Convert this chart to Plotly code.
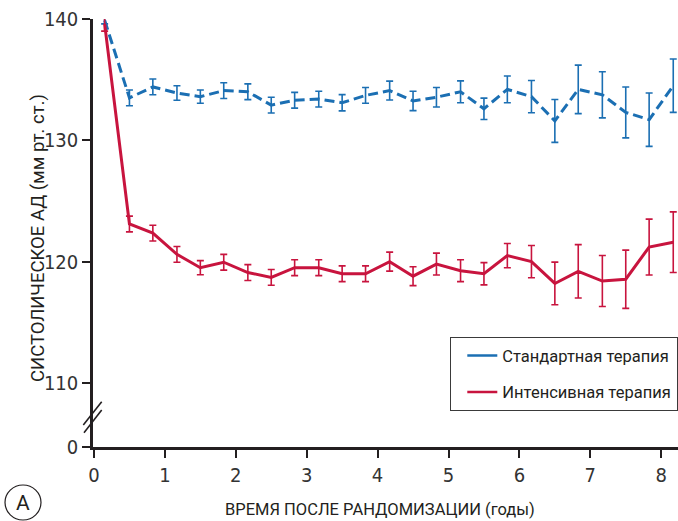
import plotly.graph_objects as go

# Years after randomization
years = [0.15, 0.5, 0.83, 1.17, 1.5, 1.83, 2.17, 2.5, 2.83, 3.17, 3.5, 3.83,
         4.17, 4.5, 4.83, 5.17, 5.5, 5.83, 6.17, 6.5, 6.83, 7.17, 7.5, 7.83, 8.17]

# Standard therapy: mean systolic BP and 95% CI half-width
standard_sbp = [139.9, 133.5, 134.4, 133.9, 133.6, 134.1, 134.0, 132.9, 133.3, 133.4,
                133.1, 133.7, 134.1, 133.25, 133.55, 134.0, 132.6, 134.2, 133.6, 131.6,
                134.2, 133.75, 132.3, 131.7, 134.5]
standard_ci = [0.3, 0.65, 0.65, 0.6, 0.55, 0.65, 0.65, 0.65, 0.65, 0.65, 0.67, 0.65,
               0.78, 0.8, 0.8, 0.9, 0.88, 1.1, 1.33, 1.77, 2.0, 1.9, 2.1, 2.2, 2.2]

# Intensive therapy
intensive_sbp = [139.6, 123.1, 122.35, 120.6, 119.5, 119.95, 119.1, 118.7, 119.5, 119.5,
                 119.0, 119.0, 120.0, 118.8, 119.8, 119.25, 119.0, 120.5, 120.0, 118.2,
                 119.2, 118.4, 118.55, 121.2, 121.6]
intensive_ci = [0.6, 0.65, 0.65, 0.65, 0.58, 0.65, 0.65, 0.65, 0.65, 0.65, 0.65, 0.65,
                0.78, 0.78, 0.9, 0.9, 0.92, 1.0, 1.33, 1.76, 2.2, 2.1, 2.4, 2.3, 2.5]

series_names = ["Стандартная терапия", "Интенсивная терапия"]
x_ticks = [0, 1, 2, 3, 4, 5, 6, 7, 8]
y_ticks = [110, 120, 130, 140]

BLUE = "#1b6fb3"
RED = "#c8143e"
INK = "#231f20"
TEXT_FONT = "Roboto, Liberation Sans, sans-serif"
TICK_FONT = "DejaVu Sans Condensed, Roboto, sans-serif"

# the axis is broken below 110: its bottom edge stands for 0
Y_BOTTOM = 104.72
y_tickvals = [Y_BOTTOM] + y_ticks
y_ticktext = ["0"] + [str(v) for v in y_ticks]

W, H = 678, 521
ML, MR, MT, MB = 93, 0, 19, 74
PW, PH = W - ML - MR, H - MT - MB


def px(x):
    return (x - ML) / PW


def py(y):
    return (H - MB - y) / PH


fig = go.Figure()

fig.add_trace(go.Scatter(
    x=years, y=standard_sbp, mode="lines", showlegend=False, cliponaxis=False,
    line=dict(color=BLUE, width=3, dash="10px,5px"),
    error_y=dict(type="data", array=standard_ci, visible=True,
                 color=BLUE, thickness=1.6, width=3.5),
))
fig.add_trace(go.Scatter(
    x=years, y=intensive_sbp, mode="lines", showlegend=False, cliponaxis=False,
    line=dict(color=RED, width=3),
    error_y=dict(type="data", array=intensive_ci, visible=True,
                 color=RED, thickness=1.6, width=3.5),
))

# legend entries (solid samples)
for name, color in zip(series_names, [BLUE, RED]):
    fig.add_trace(go.Scatter(
        x=[None], y=[None], mode="lines", name=name, legendgroup=name,
        line=dict(color=color, width=2.5),
    ))

shapes = [
    # axis break marks
    dict(type="line", xref="paper", yref="paper",
         x0=px(101.7), y0=py(401.7), x1=px(83.3), y1=py(425),
         line=dict(color=INK, width=1.6)),
    dict(type="line", xref="paper", yref="paper",
         x0=px(101.7), y0=py(410), x1=px(84), y1=py(432.7),
         line=dict(color=INK, width=1.6)),
    # panel letter circle
    dict(type="circle", xref="paper", yref="paper",
         x0=px(5), y0=py(520), x1=px(41), y1=py(485),
         line=dict(color=INK, width=1.2)),
]

annotations = [
    dict(text="A", xref="paper", yref="paper", x=px(23), y=py(503),
         showarrow=False, font=dict(size=21, color=INK, family=TEXT_FONT),
         xanchor="center", yanchor="middle"),
    dict(text="ВРЕМЯ ПОСЛЕ РАНДОМИЗАЦИИ (годы)",
         xref="paper", yref="paper", x=px(380), y=py(509), showarrow=False,
         font=dict(size=16.5, color=INK, family=TEXT_FONT),
         xanchor="center", yanchor="middle"),
    dict(text="СИСТОЛИЧЕСКОЕ АД (мм рт. ст.)",
         xref="paper", yref="paper", x=px(38), y=py(238), showarrow=False,
         textangle=-90, font=dict(size=18.5, color=INK, family=TEXT_FONT),
         xanchor="center", yanchor="middle"),
]

fig.update_layout(
    width=W, height=H,
    margin=dict(l=ML, r=MR, t=MT, b=MB, autoexpand=False),
    paper_bgcolor="white", plot_bgcolor="white",
    font=dict(family=TEXT_FONT, color=INK),
    shapes=shapes, annotations=annotations,
    legend=dict(
        x=px(450), y=py(337), xanchor="left", yanchor="top",
        bgcolor="white", bordercolor="#3a3a3a", borderwidth=1.3,
        font=dict(size=16.5, color=INK, family=TEXT_FONT),
        tracegroupgap=12, indentation=11,
    ),
    xaxis=dict(
        range=[-0.014, 8.237], tickvals=x_ticks,
        showgrid=False, zeroline=False,
        showline=True, linecolor=INK, linewidth=3,
        ticks="outside", ticklen=8, tickwidth=1.5, tickcolor=INK,
        tickfont=dict(size=20, color="#333", family=TICK_FONT),
    ),
    yaxis=dict(
        range=[Y_BOTTOM, 140.0], tickvals=y_tickvals, ticktext=y_ticktext,
        showgrid=False, zeroline=False,
        showline=True, linecolor=INK, linewidth=2.5,
        ticks="outside", ticklen=8, tickwidth=1.5, tickcolor=INK,
        tickfont=dict(size=20, color="#333", family=TICK_FONT),
    ),
)

fig.write_html("out.html")
